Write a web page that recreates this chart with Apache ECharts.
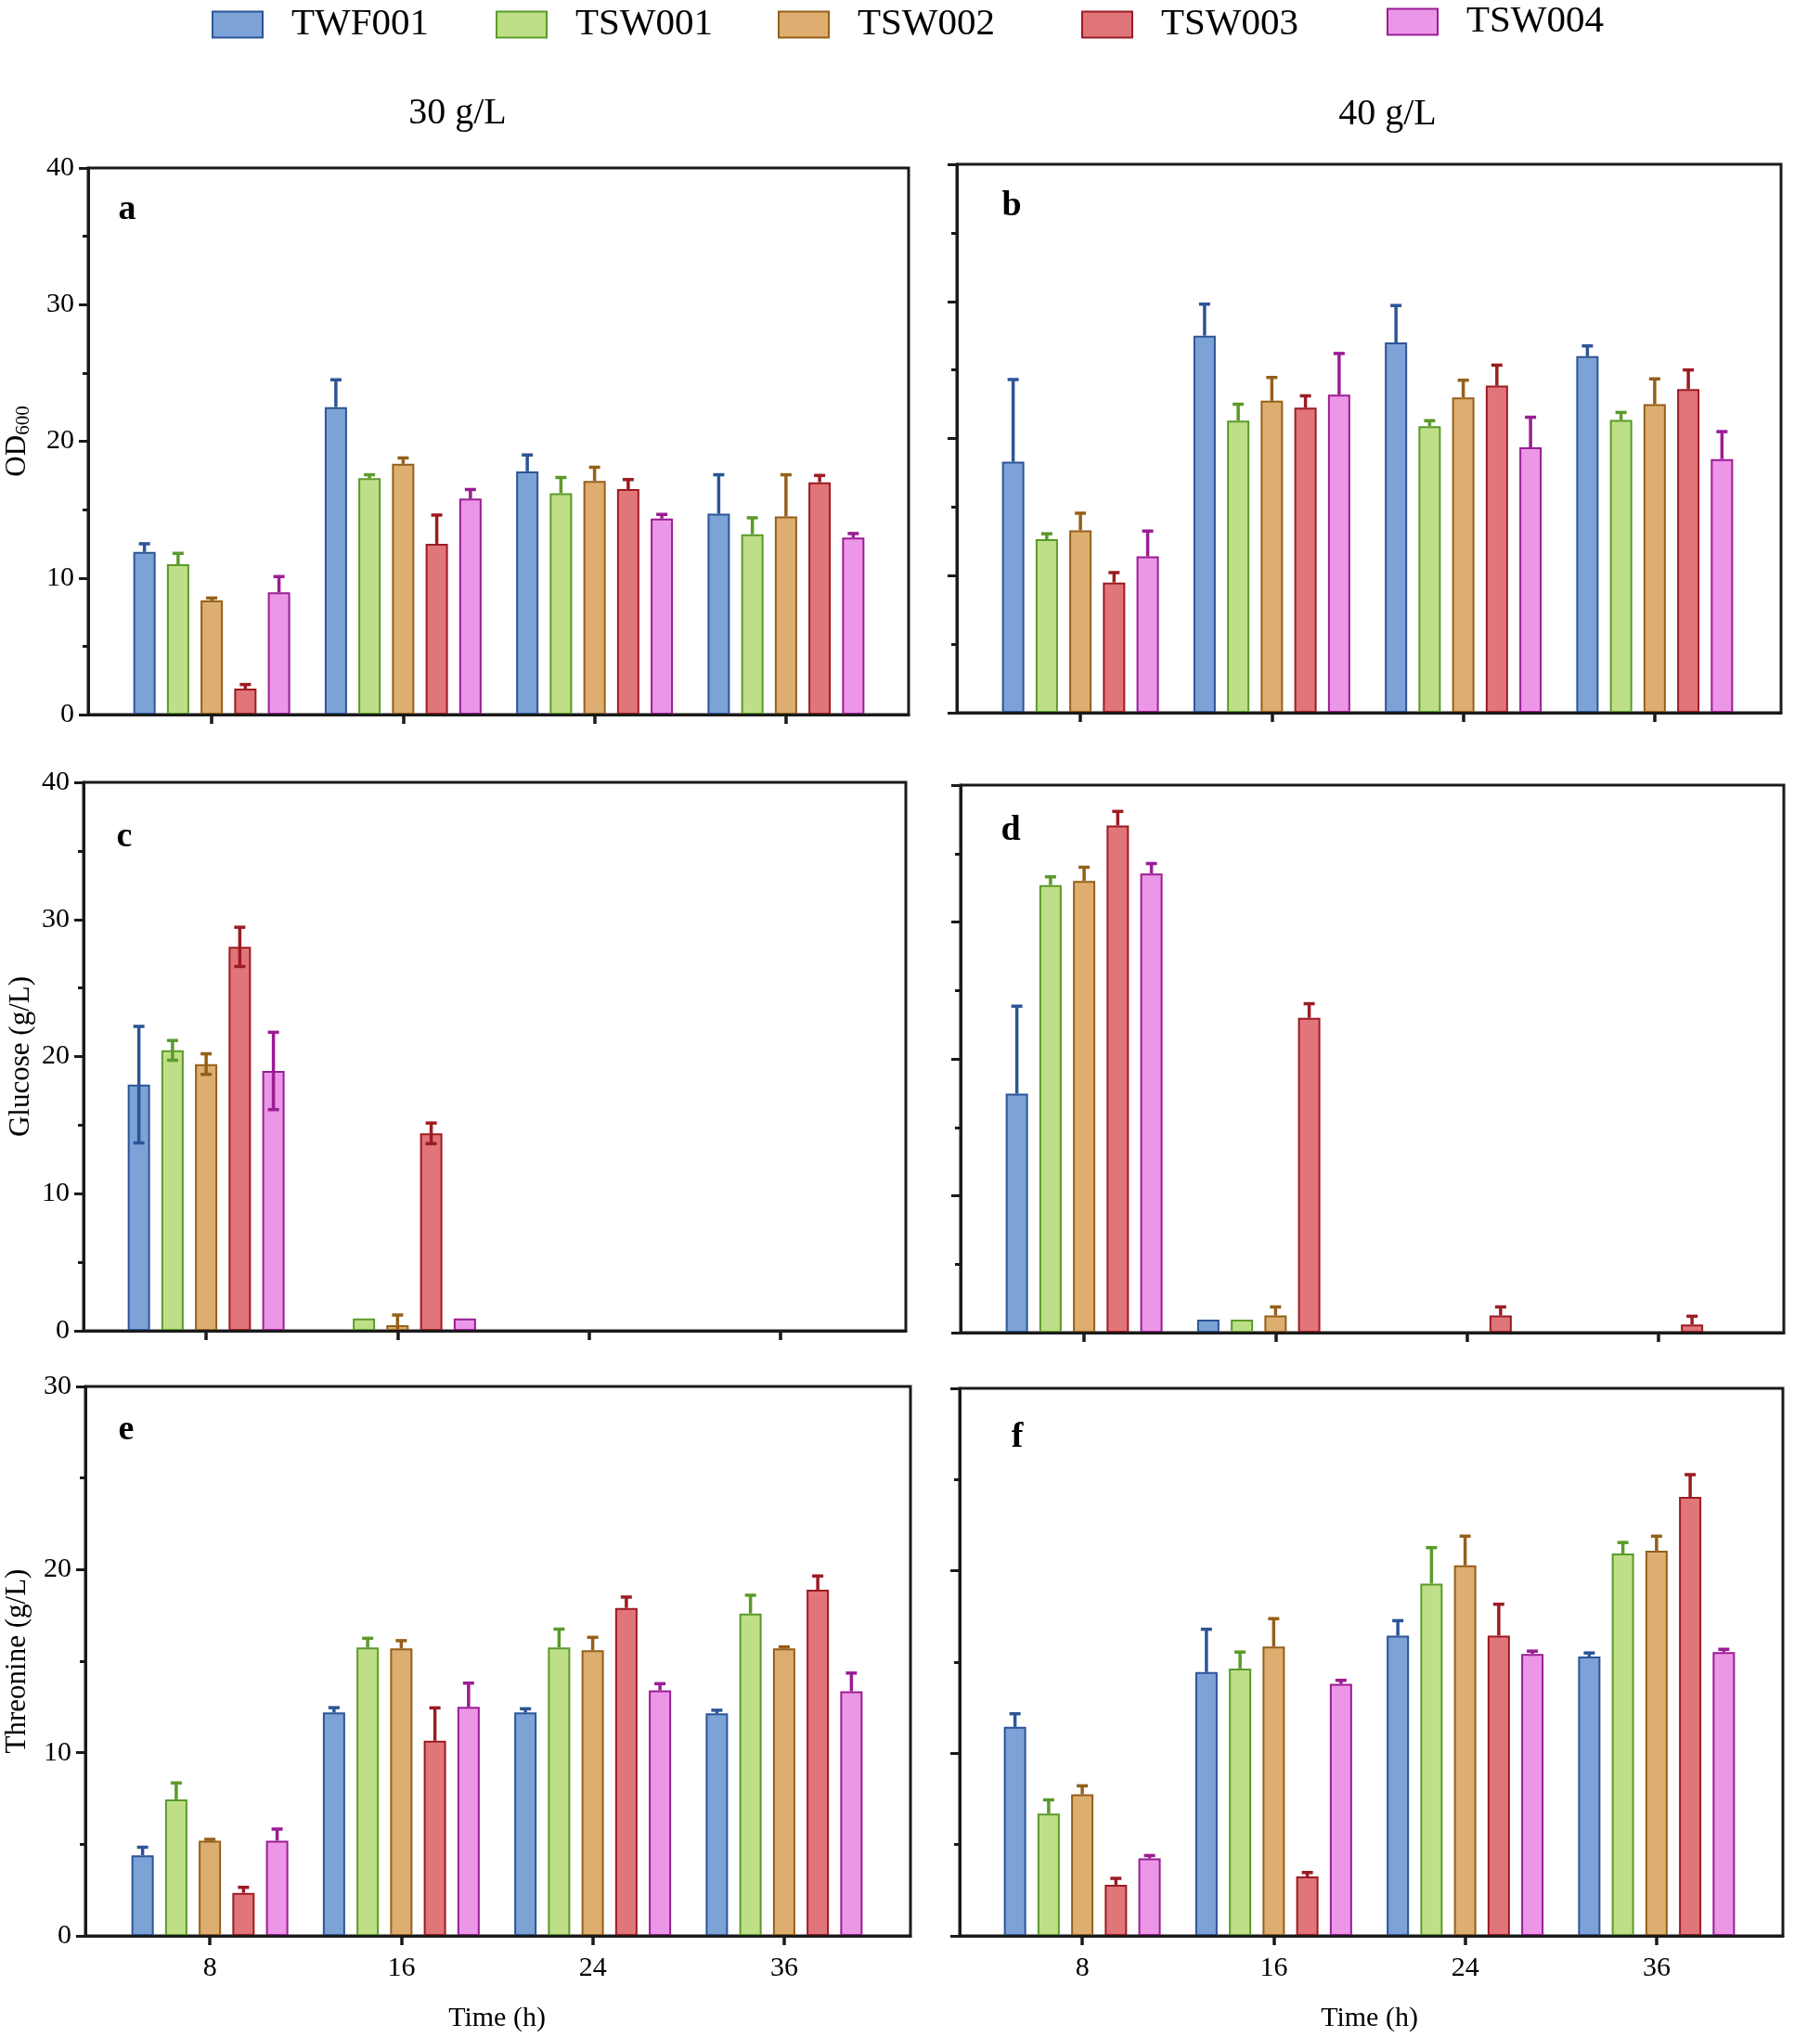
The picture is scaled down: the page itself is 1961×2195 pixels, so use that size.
<!DOCTYPE html>
<html>
<head>
<meta charset="utf-8">
<script src="https://cdn.jsdelivr.net/npm/echarts@6/dist/echarts.min.js"></script>
<style>
  html, body { margin: 0; padding: 0; background: #fff; }
  #chart { width: 1961px; height: 2195px; }
</style>
</head>
<body>
<div id="chart"></div>
<script>
"use strict";

var strains = ["TWF001", "TSW001", "TSW002", "TSW003", "TSW004"];
var hours = ["8", "16", "24", "36"];
var fills = ["#7DA2D6", "#BEDF88", "#DDAE70", "#E0757A", "#EC96E8"];
var edges = ["#2C5597", "#5B9A2A", "#94601A", "#9C1C23", "#9A1D93"];

// one row per strain, one value per sampling time (8, 16, 24, 36 h)
var od30 = [
  [11.9, 22.5, 17.8, 14.7],
  [11.0, 17.3, 16.2, 13.2],
  [8.35, 18.35, 17.1, 14.5],
  [1.9, 12.5, 16.5, 17.0],
  [8.95, 15.8, 14.35, 12.95]
];
var od30Sd = [
  [0.6, 2.0, 1.2, 2.85],
  [0.8, 0.25, 1.15, 1.2],
  [0.18, 0.43, 1.0, 3.05],
  [0.3, 2.1, 0.7, 0.5],
  [1.15, 0.67, 0.3, 0.3]
];
var od40 = [
  [18.3, 27.5, 27.0, 26.0],
  [12.65, 21.3, 20.9, 21.35],
  [13.3, 22.75, 23.0, 22.5],
  [9.5, 22.25, 23.85, 23.6],
  [11.4, 23.2, 19.35, 18.5]
];
var od40Sd = [
  [6.0, 2.3, 2.7, 0.75],
  [0.4, 1.2, 0.4, 0.55],
  [1.25, 1.7, 1.25, 1.85],
  [0.72, 0.86, 1.5, 1.4],
  [1.85, 3.0, 2.2, 2.0]
];
var glc30 = [
  [17.95, 0, 0, 0],
  [20.45, 0.9, 0, 0],
  [19.45, 0.4, 0, 0],
  [28.0, 14.4, 0, 0],
  [18.95, 0.9, 0, 0]
];
var glc30Sd = [
  [4.25, 0, 0, 0],
  [0.72, 0, 0, 0],
  [0.75, 0.75, 0, 0],
  [1.43, 0.75, 0, 0],
  [2.82, 0, 0, 0]
];
var glc40 = [
  [17.45, 0.95, 0, 0],
  [32.7, 0.95, 0, 0],
  [33.0, 1.25, 0, 0],
  [37.05, 23.0, 1.25, 0.6],
  [33.55, 0, 0, 0]
];
var glc40Sd = [
  [6.4, 0, 0, 0],
  [0.6, 0, 0, 0],
  [1.0, 0.63, 0, 0],
  [1.03, 1.03, 0.63, 0.6],
  [0.72, 0, 0, 0]
];
var thr30 = [
  [4.4, 12.2, 12.2, 12.15],
  [7.45, 15.75, 15.75, 17.6],
  [5.2, 15.7, 15.6, 15.7],
  [2.35, 10.65, 17.9, 18.9],
  [5.2, 12.5, 13.4, 13.35]
];
var thr30Sd = [
  [0.44, 0.26, 0.2, 0.17],
  [0.9, 0.5, 1.0, 1.0],
  [0.07, 0.42, 0.7, 0.08],
  [0.3, 1.8, 0.6, 0.75],
  [0.63, 1.3, 0.37, 1.0]
];
var thr40 = [
  [11.45, 14.45, 16.45, 15.3],
  [6.7, 14.65, 19.3, 20.95],
  [7.75, 15.85, 20.3, 21.1],
  [2.8, 3.25, 16.45, 24.05],
  [4.25, 13.8, 15.45, 15.55]
];
var thr40Sd = [
  [0.72, 2.35, 0.82, 0.2],
  [0.75, 0.9, 1.97, 0.6],
  [0.47, 1.53, 1.6, 0.8],
  [0.35, 0.22, 1.72, 1.22],
  [0.15, 0.2, 0.15, 0.15]
];

var FONT = "Liberation Serif";
var INK = "#1a1a1a";
var BAR_W = 24;
var BAR_GAP = 0.51;
var INNER_W = 825;

// frame = [left, top, width, height]; inner = left of the 4 category bands
var panels = [
  { mean: od30, sd: od30Sd, frame: [95, 181, 884, 589], inner: 125, max: 40, name: "{a|OD}{b|600}", gap: 59, bottom: false, both: false },
  { mean: od40, sd: od40Sd, frame: [1031, 177, 888, 591], inner: 1061, max: 40, name: "", gap: 0, bottom: false, both: false },
  { mean: glc30, sd: glc30Sd, frame: [90, 843, 886, 591], inner: 119, max: 40, name: "Glucose (g/L)", gap: 52, bottom: false, both: true },
  { mean: glc40, sd: glc40Sd, frame: [1035, 846, 887, 590], inner: 1065, max: 40, name: "", gap: 0, bottom: false, both: false },
  { mean: thr30, sd: thr30Sd, frame: [92, 1494, 889, 592], inner: 123, max: 30, name: "Threonine (g/L)", gap: 58, bottom: true, both: false },
  { mean: thr40, sd: thr40Sd, frame: [1034, 1496, 887, 590], inner: 1063, max: 30, name: "", gap: 0, bottom: true, both: false }
];

function errorBar(slot, color, both) {
  return function (params, api) {
    var err = api.value(2);
    if (!err) return null;
    var cat = api.value(0);
    var mean = api.value(1);
    var x = api.coord([cat, mean])[0] + (slot - 2) * BAR_W * (1 + BAR_GAP);
    var yTop = api.coord([cat, mean + err])[1];
    var yLow = api.coord([cat, both ? Math.max(mean - err, 0) : mean])[1];
    var st = { stroke: color, lineWidth: 3.5 };
    var kids = [
      { type: "line", shape: { x1: x, y1: yLow, x2: x, y2: yTop }, style: st },
      { type: "line", shape: { x1: x - 6, y1: yTop, x2: x + 6, y2: yTop }, style: st }
    ];
    if (both) {
      kids.push({ type: "line", shape: { x1: x - 6, y1: yLow, x2: x + 6, y2: yLow }, style: st });
    }
    return { type: "group", children: kids };
  };
}

var grids = [], xAxes = [], yAxes = [], series = [];

panels.forEach(function (p, i) {
  var f = p.frame;
  var leftCol = i % 2 === 0;
  // frame grid: box border, y axis with ticks
  grids.push({
    left: f[0], top: f[1], width: f[2], height: f[3],
    show: true, borderColor: INK, borderWidth: 3, backgroundColor: "transparent"
  });
  // inner grid: the four category bands
  grids.push({ left: p.inner, top: f[1], width: INNER_W, height: f[3] });

  xAxes.push({
    gridIndex: 2 * i, type: "value", min: 0, max: 1, z: 10,
    axisLine: { show: true, lineStyle: { color: INK, width: 3 } },
    axisTick: { show: false }, axisLabel: { show: false }, splitLine: { show: false }
  });
  xAxes.push({
    gridIndex: 2 * i + 1, type: "category", data: hours,
    axisLine: { show: false },
    axisTick: { show: true, alignWithLabel: true, length: 10, lineStyle: { color: INK, width: 3.5 } },
    axisLabel: { show: p.bottom, fontFamily: FONT, fontSize: 30, color: "#000", margin: 20 },
    name: p.bottom ? "Time (h)" : "",
    nameLocation: "middle", nameGap: 74,
    nameTextStyle: { fontFamily: FONT, fontSize: 30, color: "#000" }
  });

  yAxes.push({
    gridIndex: 2 * i, type: "value", min: 0, max: p.max, interval: 10, z: 10,
    axisLine: { show: true, lineStyle: { color: INK, width: 3 } },
    axisTick: { show: true, length: 10, lineStyle: { color: INK, width: 3 } },
    minorTick: { show: true, splitNumber: 2, length: 6, lineStyle: { color: INK, width: 3 } },
    axisLabel: { show: leftCol, fontFamily: FONT, fontSize: 30, color: "#000", margin: 15 },
    splitLine: { show: false },
    name: p.name, nameLocation: "middle", nameRotate: 90, nameGap: p.gap,
    nameTextStyle: {
      fontFamily: FONT, fontSize: 31, color: "#000",
      rich: {
        a: { fontFamily: FONT, fontSize: 31, color: "#000" },
        b: { fontFamily: FONT, fontSize: 21, color: "#000", padding: [14, 0, 0, 0] }
      }
    }
  });
  yAxes.push({ gridIndex: 2 * i + 1, type: "value", min: 0, max: p.max, show: false });

  strains.forEach(function (name, s) {
    series.push({
      type: "bar", name: name,
      xAxisIndex: 2 * i + 1, yAxisIndex: 2 * i + 1,
      data: p.mean[s], barWidth: BAR_W, barGap: (BAR_GAP * 100) + "%",
      itemStyle: { color: fills[s], borderColor: edges[s], borderWidth: 2 }
    });
  });
  strains.forEach(function (name, s) {
    series.push({
      type: "custom", name: name + " SD",
      xAxisIndex: 2 * i + 1, yAxisIndex: 2 * i + 1, z: 3,
      encode: { x: 0, y: 1 },
      data: p.mean[s].map(function (v, k) { return [k, v, p.sd[s][k]]; }),
      renderItem: errorBar(s, edges[s], p.both)
    });
  });
});

var legendLefts = [228, 534, 838, 1165, 1494];
var legendTops = [6, 6, 6, 6, 3];
var legends = strains.map(function (name, s) {
  return {
    data: [name], left: legendLefts[s], top: legendTops[s], padding: 0,
    icon: "rect", itemWidth: 54, itemHeight: 28,
    itemStyle: { borderWidth: 2 },
    textStyle: { fontFamily: FONT, fontSize: 41, color: "#000", padding: [0, 0, 0, 26] }
  };
});

function label(text, x, y, size, bold) {
  return {
    type: "text", x: x, y: y,
    style: {
      text: text, fill: "#000", font: (bold ? "bold " : "") + size + "px '" + FONT + "'",
      textAlign: "center", textVerticalAlign: "middle"
    }
  };
}

var chart = echarts.init(document.getElementById("chart"));
chart.setOption({
  backgroundColor: "#fff",
  animation: false,
  textStyle: { fontFamily: FONT },
  legend: legends,
  grid: grids,
  xAxis: xAxes,
  yAxis: yAxes,
  series: series,
  graphic: [
    label("30 g/L", 493, 122, 40, false),
    label("40 g/L", 1495, 123, 40, false),
    label("a", 137, 226, 38, true),
    label("b", 1090, 222, 38, true),
    label("c", 134, 902, 38, true),
    label("d", 1089, 895, 38, true),
    label("e", 136, 1541, 38, true),
    label("f", 1096, 1549, 38, true)
  ]
});
</script>
</body>
</html>
